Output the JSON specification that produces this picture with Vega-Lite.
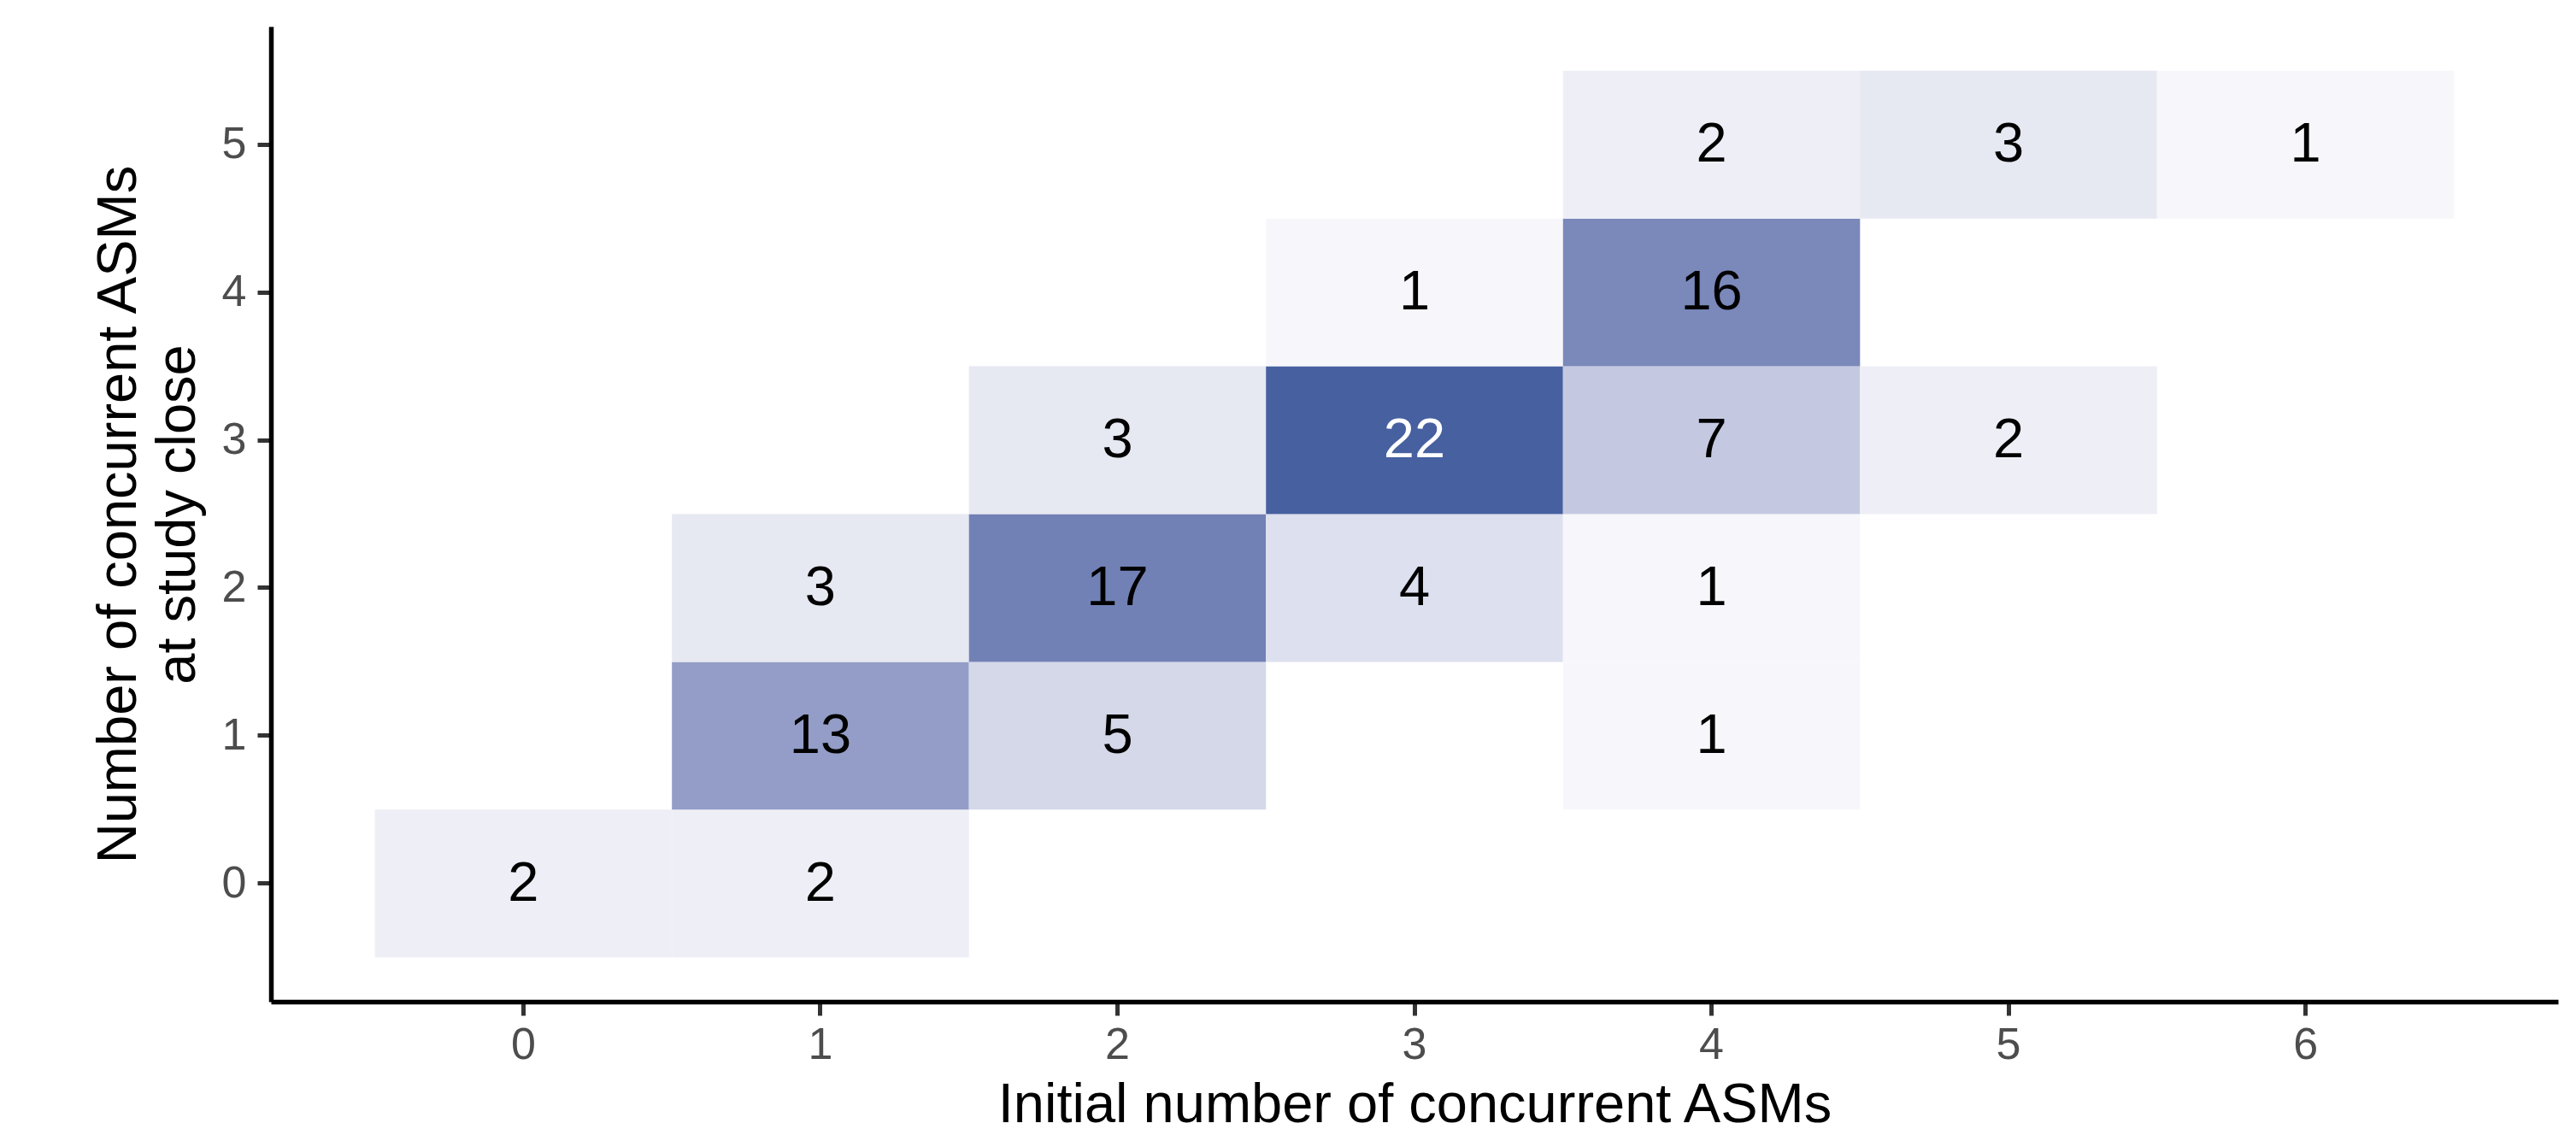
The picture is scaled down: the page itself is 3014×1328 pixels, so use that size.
{
  "$schema": "https://vega.github.io/schema/vega-lite/v6.json",
  "width": 2676,
  "height": 1141,
  "autosize": {"type": "none"},
  "padding": {"left": 317, "top": 31, "right": 21, "bottom": 156},
  "background": "white",
  "config": {
    "view": {"stroke": null},
    "font": "Liberation Sans",
    "axis": {
      "grid": false,
      "labelFont": "Liberation Sans",
      "titleFont": "Liberation Sans",
      "labelFontSize": 52,
      "labelColor": "#4D4D4D",
      "titleFontSize": 65,
      "titleColor": "#000000",
      "titleFontWeight": "normal",
      "tickSize": 16,
      "tickWidth": 5,
      "tickColor": "#333333",
      "domainColor": "#000000",
      "domainWidth": 5.5,
      "labelAngle": 0,
      "labelFlush": false,
      "labelOverlap": false
    }
  },
  "data": {
    "values": [
      {"initial": 0, "close": 0, "n": 2},
      {"initial": 1, "close": 0, "n": 2},
      {"initial": 1, "close": 1, "n": 13},
      {"initial": 2, "close": 1, "n": 5},
      {"initial": 4, "close": 1, "n": 1},
      {"initial": 1, "close": 2, "n": 3},
      {"initial": 2, "close": 2, "n": 17},
      {"initial": 3, "close": 2, "n": 4},
      {"initial": 4, "close": 2, "n": 1},
      {"initial": 2, "close": 3, "n": 3},
      {"initial": 3, "close": 3, "n": 22},
      {"initial": 4, "close": 3, "n": 7},
      {"initial": 5, "close": 3, "n": 2},
      {"initial": 3, "close": 4, "n": 1},
      {"initial": 4, "close": 4, "n": 16},
      {"initial": 4, "close": 5, "n": 2},
      {"initial": 5, "close": 5, "n": 3},
      {"initial": 6, "close": 5, "n": 1}
    ]
  },
  "encoding": {
    "x": {
      "field": "initial",
      "type": "ordinal",
      "scale": {"domain": [0, 1, 2, 3, 4, 5, 6], "paddingInner": 0, "paddingOuter": 0.35},
      "axis": {
        "title": "Initial number of concurrent ASMs",
        "labelPadding": 9,
        "titlePadding": 13
      }
    },
    "y": {
      "field": "close",
      "type": "ordinal",
      "scale": {"domain": [5, 4, 3, 2, 1, 0], "paddingInner": 0, "paddingOuter": 0.3},
      "axis": {
        "title": ["Number of concurrent ASMs", "at study close"],
        "titleLineHeight": 69,
        "labelPadding": 13,
        "titlePadding": 18
      }
    }
  },
  "layer": [
    {
      "mark": {"type": "rect"},
      "encoding": {
        "color": {
          "field": "n",
          "type": "quantitative",
          "scale": {"domain": [0, 22], "range": ["#FFFFFF", "#4660A0"], "interpolate": "lab"},
          "legend": null
        }
      }
    },
    {
      "mark": {"type": "text", "fontSize": 65, "baseline": "middle", "font": "Liberation Sans"},
      "encoding": {
        "text": {"field": "n", "type": "quantitative"},
        "color": {
          "condition": {"test": "datum.n > 20", "value": "#FFFFFF"},
          "value": "#000000"
        }
      }
    }
  ]
}
